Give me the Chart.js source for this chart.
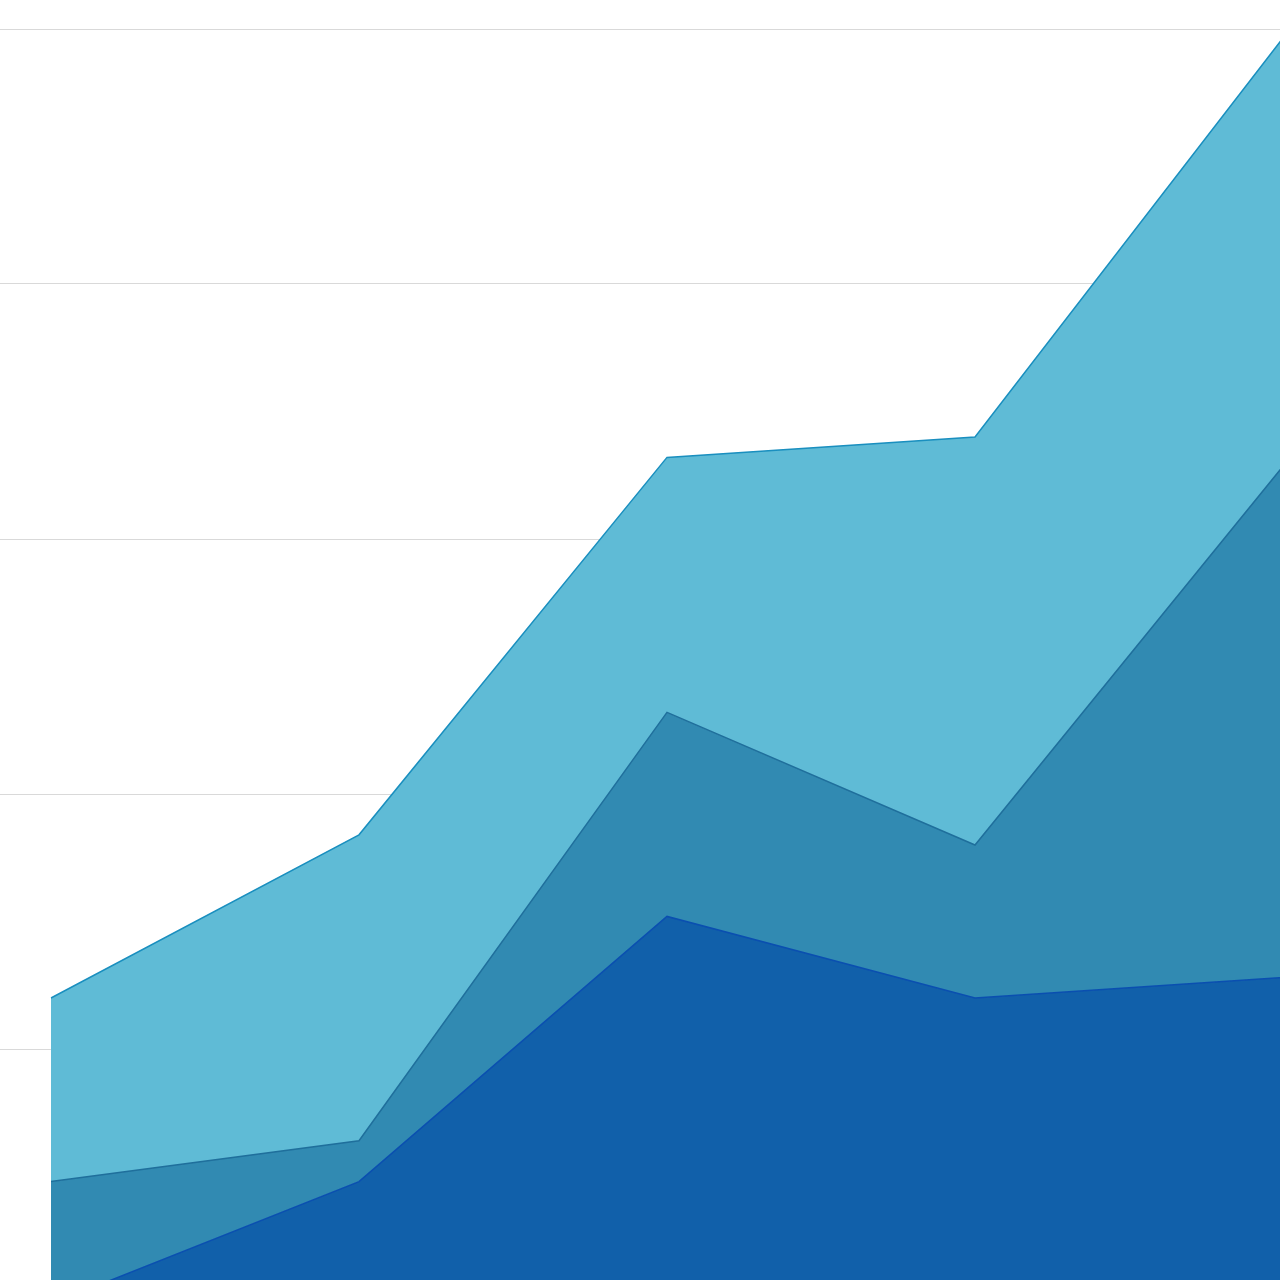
<!DOCTYPE html>
<html>
<head>
<meta charset="utf-8">
<script src="https://cdn.jsdelivr.net/npm/chart.js@4/dist/chart.umd.min.js"></script>
<style>
html,body{margin:0;padding:0;background:#fff;overflow:hidden;width:1280px;height:1280px;}
#wrap{position:absolute;left:0;top:0;width:1283px;height:1304px;}
</style>
</head>
<body>
<div id="wrap"><canvas id="c"></canvas></div>
<script>
const categories = ['A', 'B', 'C', 'D', 'E'];
const seriesBottom = [0, 9.6, 30.4, 24.0, 25.6];
const seriesMiddle = [9.6, 3.2, 16.0, 12.0, 40.1];
const seriesTop = [14.4, 24.0, 20.0, 32.0, 33.6];
const yMin = 0, yMax = 100, yStep = 20;

new Chart(document.getElementById('c'), {
  type: 'line',
  data: {
    labels: categories,
    datasets: [
      {label: 'Series 1', data: seriesBottom, fill: 'origin', backgroundColor: '#1160aa', borderColor: '#0a4fb0', borderWidth: 1.5, pointRadius: 0, tension: 0},
      {label: 'Series 2', data: seriesMiddle, fill: '-1', backgroundColor: '#318ab2', borderColor: '#1f6f9c', borderWidth: 1.5, pointRadius: 0, tension: 0},
      {label: 'Series 3', data: seriesTop, fill: '-1', backgroundColor: '#5fbbd6', borderColor: '#1a8fbf', borderWidth: 1.5, pointRadius: 0, tension: 0}
    ]
  },
  options: {
    responsive: true,
    maintainAspectRatio: false,
    animation: false,
    layout: {padding: {top: 29, left: 0, right: 0, bottom: 0}},
    plugins: {legend: {display: false}, tooltip: {enabled: false}},
    scales: {
      x: {display: false, offset: false},
      y: {
        stacked: true,
        min: yMin, max: yMax,
        ticks: {display: false, stepSize: yStep},
        grid: {color: '#d9d9d9', lineWidth: 1, drawTicks: true, tickLength: 51},
        border: {display: false}
      }
    }
  }
});
</script>
</body>
</html>
